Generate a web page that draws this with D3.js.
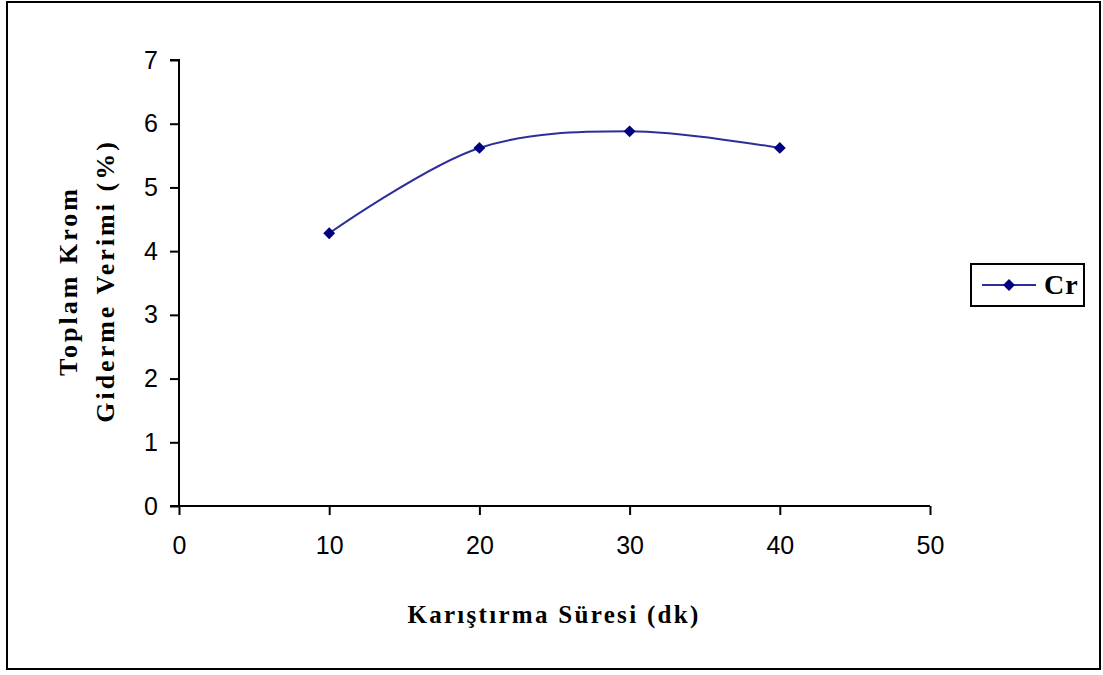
<!DOCTYPE html>
<html>
<head>
<meta charset="utf-8">
<script src="https://cdn.jsdelivr.net/npm/d3@7"></script>
<style>
  html, body { margin: 0; padding: 0; background: #fff; }
  svg { display: block; }
</style>
</head>
<body>
<svg id="chart" width="1103" height="675"></svg>
<script>
// Mixing time (dk) and total chromium removal efficiency (%)
const times = [10, 20, 30, 40];
const crEfficiency = [4.28, 5.62, 5.88, 5.62];
const xTicks = [0, 10, 20, 30, 40, 50];
const yTicks = [0, 1, 2, 3, 4, 5, 6, 7];
const seriesName = "Cr";
const xTitle = "Karıştırma Süresi (dk)";
const yTitleLines = ["Toplam Krom", "Giderme Verimi (%)"];

const svg = d3.select("#chart");
const lineColor = "#2e2e9a";
const markerColor = "#000080";

// Outer chart frame
svg.append("rect")
  .attr("x", 7).attr("y", 2)
  .attr("width", 1093).attr("height", 667)
  .attr("fill", "#fff").attr("stroke", "#000").attr("stroke-width", 2);

const plot = { left: 179, right: 930, top: 60, bottom: 506 };

const x = d3.scaleLinear().domain([0, 50]).range([plot.left, plot.right]);
const y = d3.scaleLinear().domain([0, 7]).range([plot.bottom, plot.top]);

const tickFont = "'Liberation Sans', Arial, sans-serif";
const titleFont = "'Liberation Serif', 'Times New Roman', serif";

// Y axis
const yAxis = svg.append("g")
  .attr("transform", `translate(${plot.left},0)`)
  .call(d3.axisLeft(y).tickValues(yTicks).tickSize(9).tickPadding(12).tickFormat(d3.format("d")));
yAxis.select(".domain").attr("stroke", "#000").attr("stroke-width", 2)
  .attr("d", `M0,${plot.bottom}V${plot.top}H-9`);
yAxis.selectAll(".tick line").attr("stroke", "#000").attr("stroke-width", 2);
yAxis.selectAll(".tick text")
  .attr("font-family", tickFont).attr("font-size", 25).attr("fill", "#000");

// X axis
const xAxis = svg.append("g")
  .attr("transform", `translate(0,${plot.bottom})`)
  .call(d3.axisBottom(x).tickValues(xTicks).tickSize(9).tickPadding(21).tickFormat(d3.format("d")));
xAxis.select(".domain").attr("stroke", "#000").attr("stroke-width", 2)
  .attr("d", `M${plot.left - 9},0H${plot.right}`);
xAxis.selectAll(".tick line").attr("stroke", "#000").attr("stroke-width", 2);
xAxis.selectAll(".tick text")
  .attr("font-family", tickFont).attr("font-size", 25).attr("fill", "#000");

// Axis titles
svg.append("text")
  .attr("x", 554).attr("y", 623)
  .attr("text-anchor", "middle")
  .attr("font-family", titleFont).attr("font-weight", "bold").attr("font-size", 25)
  .attr("letter-spacing", 2.3)
  .text(xTitle);

const yTitle = svg.append("text")
  .attr("transform", "translate(0,281) rotate(-90)")
  .attr("text-anchor", "middle")
  .attr("font-family", titleFont).attr("font-weight", "bold").attr("font-size", 26)
  .attr("letter-spacing", 3);
yTitleLines.forEach((line, i) => {
  yTitle.append("tspan").attr("x", 0).attr("y", 77 + i * 37).text(line);
});

// Smoothed series line
const data = times.map((t, i) => ({ t, v: crEfficiency[i] }));
const line = d3.line()
  .x(d => x(d.t)).y(d => y(d.v))
  .curve(d3.curveCatmullRom.alpha(0.5));
svg.append("path")
  .datum(data)
  .attr("d", line)
  .attr("fill", "none").attr("stroke", lineColor).attr("stroke-width", 2);

const diamond = d3.symbol().type(d3.symbolDiamond2).size(90);
svg.selectAll(".marker")
  .data(data)
  .join("path")
  .attr("class", "marker")
  .attr("transform", d => `translate(${x(d.t)},${y(d.v)})`)
  .attr("d", diamond)
  .attr("fill", markerColor);

// Legend
const legend = svg.append("g");
legend.append("rect")
  .attr("x", 971).attr("y", 264).attr("width", 113).attr("height", 42)
  .attr("fill", "#fff").attr("stroke", "#000").attr("stroke-width", 2);
legend.append("line")
  .attr("x1", 982).attr("x2", 1036).attr("y1", 285).attr("y2", 285)
  .attr("stroke", lineColor).attr("stroke-width", 2);
legend.append("path")
  .attr("transform", "translate(1009,285)")
  .attr("d", diamond).attr("fill", markerColor);
legend.append("text")
  .attr("x", 1044).attr("y", 294)
  .attr("font-family", titleFont).attr("font-weight", "bold").attr("font-size", 28)
  .attr("letter-spacing", 1)
  .text(seriesName);
</script>
</body>
</html>
